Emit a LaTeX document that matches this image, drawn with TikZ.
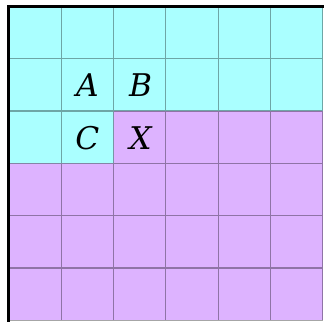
\documentclass[tikz,border=0pt]{standalone}
\usepackage{xcolor}
\usepackage{fontspec}
\newfontfamily\letterfont{DejaVu Serif}
\usetikzlibrary{positioning}
\definecolor{cyanpale}{HTML}{AAFFFF}
\definecolor{lilac}{HTML}{DDB3FF}

\begin{document}
\begin{tikzpicture}[
  x=1cm,y=1cm,
  cell/.style={draw=none,minimum size=1cm,inner sep=0pt,font=\letterfont\itshape\fontsize{17}{20}\selectfont},
  gridline/.style={draw=black,opacity=0.35,line width=0.6pt},
  edge/.style={draw=black,line width=1.6pt}]
\useasboundingbox (-0.17,-0.03) rectangle (6.02,6.12);
% regions
\fill[lilac] (0,0) rectangle (6,6);
\fill[cyanpale] (0,6) -- (6,6) -- (6,4) -- (2,4) -- (2,3) -- (0,3) -- cycle;
\draw[gridline] (0,0) grid (6,6);
% letters
\node[cell] (a) at (1.5,4.5) {A};
\node[cell,right=0cm of a] (b) {B};
\node[cell,below=0cm of a] (c) {C};
\node[cell,right=0cm of c] (x) {X};
% outer edges
\coordinate (tl) at (0,6);
\coordinate (tr) at (6.02,6);
\coordinate (bl) at (0,-0.03);
\draw[edge] (bl) -- (tl) -- (tr);
\end{tikzpicture}
\end{document}
